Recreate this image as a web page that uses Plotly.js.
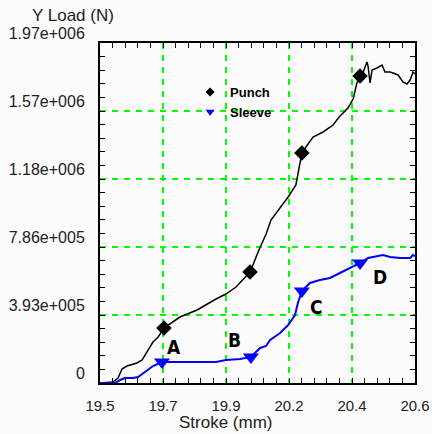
<!DOCTYPE html>
<html>
<head>
<meta charset="utf-8">
<script src="https://cdn.plot.ly/plotly-3.0.1.min.js"></script>
<style>html,body{margin:0;padding:0;background:#fcfcfc;}#chart{width:432px;height:434px;}</style>
</head>
<body>
<div id="chart"></div>
<script>
// Punch (black) load curve
const punchX = [19.5, 19.545, 19.563, 19.577, 19.594, 19.629, 19.647, 19.664, 19.685, 19.703, 19.7235,
  19.779, 19.839, 19.905, 19.940, 19.975, 20.024, 20.055, 20.080, 20.097, 20.115, 20.157, 20.184,
  20.205, 20.219, 20.244, 20.279, 20.314, 20.335, 20.366, 20.384, 20.397, 20.408, 20.418, 20.432,
  20.436, 20.443, 20.450, 20.467, 20.485, 20.495, 20.513, 20.523, 20.541, 20.558, 20.572, 20.583,
  20.593, 20.6];
const punchY = [0, 5800, 28900, 81000, 98300, 115600, 133000, 179300, 237000, 266000, 318000,
  381600, 422000, 485700, 514600, 555100, 641800, 769000, 861600, 942500, 983000, 1075500, 1144900,
  1330000, 1364600, 1422500, 1451400, 1491800, 1538100, 1590200, 1642200, 1734700, 1775200, 1792600, 1856200,
  1833000, 1734700, 1809900, 1821400, 1838800, 1798300, 1798300, 1792600, 1781000, 1740500, 1728900, 1752000,
  1798300, 1786700];
// Sleeve (blue) load curve
const sleeveX = [19.5, 19.552, 19.570, 19.587, 19.615, 19.633, 19.657, 19.685, 19.7165, 19.849, 19.905,
  19.940, 19.989, 20.027, 20.059, 20.080, 20.094, 20.129, 20.157, 20.181, 20.191, 20.205, 20.233,
  20.268, 20.303, 20.338, 20.373, 20.408, 20.436, 20.453, 20.488, 20.513, 20.548, 20.583, 20.593, 20.6];
const sleeveY = [0, 0, 17300, 28900, 28900, 34700, 63600, 98300, 121400, 121400, 121400,
  133000, 138800, 150300, 202400, 214000, 248600, 289100, 335400, 393200, 462600, 532000, 578200,
  595600, 607100, 636100, 665000, 693900, 722800, 728600, 740100, 728600, 722800, 722800, 740100, 734400];
// Marker points
const punchMarkX = [19.7235, 20.024, 20.205, 20.408];
const punchMarkY = [318000, 641800, 1330000, 1775200];
const sleeveMarkX = [19.7165, 20.027, 20.205, 20.408];
const sleeveMarkY = [121400, 150300, 532000, 693900];
// Labels
const pointLabels = ['A', 'B', 'C', 'D'];
const xTickVals = [19.5, 19.72, 19.94, 20.16, 20.38, 20.6];
const xTickText = ['19.5', '19.7', '19.9', '20.2', '20.4', '20.6'];
const xMinorVals = [19.544, 19.588, 19.632, 19.676, 19.764, 19.808, 19.852, 19.896, 19.984, 20.028, 20.072, 20.116,
  20.204, 20.248, 20.292, 20.336, 20.424, 20.468, 20.512, 20.556];
const yTickVals = [0, 393200, 786400, 1179600, 1572800, 1966000];
const yTickText = ['0', '3.93e+005', '7.86e+005', '1.18e+006', '1.57e+006', '1.97e+006'];

const FONT = 'Liberation Sans, Arial, sans-serif';
const labelPos = [[19.758, 208000], [19.971, 248600], [20.256, 439400], [20.478, 612900]];

const traces = [
  {x: punchX, y: punchY, mode: 'lines', line: {color: '#000000', width: 1.5}, showlegend: false, hoverinfo: 'skip'},
  {x: sleeveX, y: sleeveY, mode: 'lines', line: {color: '#0000ff', width: 2}, showlegend: false, hoverinfo: 'skip'},
  {x: punchMarkX, y: punchMarkY, mode: 'markers', marker: {symbol: 'diamond', size: 12, color: '#000000'}, showlegend: false},
  {x: sleeveMarkX, y: sleeveMarkY, mode: 'markers', marker: {symbol: 'triangle-down', size: 14, color: '#0000ff'}, showlegend: false},
  {x: [null], y: [null], name: 'Punch', mode: 'markers', marker: {symbol: 'diamond', size: 7, color: '#000000'}, showlegend: true},
  {x: [null], y: [null], name: 'Sleeve', mode: 'markers', marker: {symbol: 'triangle-down', size: 8, color: '#0000ff'}, showlegend: true}
];

const axisCommon = {
  showline: true, linecolor: '#000000', linewidth: 2, mirror: 'ticks',
  ticks: 'inside', ticklen: 5, tickwidth: 1, tickcolor: '#000000',
  showgrid: true, gridcolor: '#00ff00', griddash: '6px,6px', gridwidth: 2,
  zeroline: false, tickmode: 'array'
};

const annotations = pointLabels.map((t, i) => ({
  x: labelPos[i][0], y: labelPos[i][1], xref: 'x', yref: 'y', text: '<b>' + t + '</b>',
  showarrow: false, xanchor: 'center', yanchor: 'middle',
  font: {family: 'Liberation Sans Narrow, Arial Narrow, DejaVu Sans Condensed, sans-serif', size: 19, color: '#000000'}
}));
annotations.push({
  x: -0.0857, y: 1.082, xref: 'paper', yref: 'paper', text: 'Y Load (N)', showarrow: false,
  xanchor: 'center', yanchor: 'middle',
  font: {family: FONT, size: 17, color: '#222222'}
});
annotations.push({
  x: 0.4, y: -0.1176, xref: 'paper', yref: 'paper', text: 'Stroke (mm)', showarrow: false,
  xanchor: 'center', yanchor: 'middle',
  font: {family: FONT, size: 17, color: '#222222'}
});

const layout = {
  width: 432, height: 434,
  margin: {l: 100, r: 17, t: 43, b: 51, pad: 0},
  paper_bgcolor: '#fcfcfc', plot_bgcolor: '#fcfcfc',
  font: {family: FONT, color: '#222222'},
  xaxis: Object.assign({}, axisCommon, {
    range: [19.5, 20.6], tickvals: xTickVals, ticktext: xTickText,
    tickfont: {family: FONT, size: 15, color: '#222222'},
    ticklabelstandoff: 8,
    minor: {tickmode: 'array', tickvals: xMinorVals, ticks: 'inside', ticklen: 5, tickcolor: '#000000', showgrid: false}
  }),
  yaxis: Object.assign({}, axisCommon, {
    range: [0, 1966000], tickvals: yTickVals, ticktext: yTickText,
    tickfont: {family: FONT, size: 16, color: '#222222'},
    ticklabelshift: -10, ticklabelstandoff: 10,
    minor: {tick0: 0, dtick: 78640, ticks: 'inside', ticklen: 5, tickcolor: '#000000', showgrid: false}
  }),
  showlegend: true,
  legend: {
    x: 0.286, y: 0.9, xanchor: 'left', yanchor: 'top',
    bgcolor: 'rgba(0,0,0,0)', borderwidth: 0, tracegroupgap: 0,
    font: {family: FONT, size: 13, color: '#000000', weight: 'bold'}
  },
  annotations: annotations
};

Plotly.newPlot('chart', traces, layout, {displayModeBar: false, staticPlot: true});
</script>
</body>
</html>
